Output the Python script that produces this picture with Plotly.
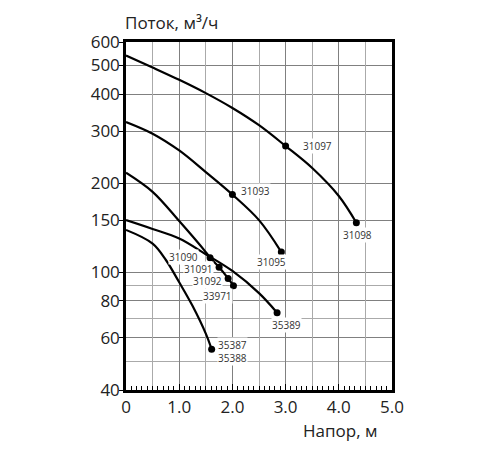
import math
import plotly.graph_objects as go

# pump curves: head (m) vs flow (m3/h)
x_31097 = [0, 0.5, 1.0, 1.5, 2.0, 2.5, 3.0, 3.5, 4.0, 4.33]
y_31097 = [540, 492, 447, 403, 359, 314, 267, 225, 181, 147]

x_31093 = [0, 0.5, 1.0, 1.5, 2.0, 2.5, 2.92]
y_31093 = [322, 294, 258, 218, 183, 150, 117]

x_31090 = [0, 0.5, 1.0, 1.5, 1.58, 1.75, 1.92, 2.02]
y_31090 = [217, 187, 149, 117, 112, 104, 95.3, 90]

x_35389 = [0, 0.5, 1.0, 1.5, 2.0, 2.5, 2.84]
y_35389 = [150, 140, 130, 115, 101, 85, 73]

x_35387 = [0, 0.5, 0.75, 1.0, 1.25, 1.5, 1.61]
y_35387 = [139, 125, 110, 92.5, 77, 62, 54.9]

curves = [(x_31097, y_31097), (x_31093, y_31093), (x_31090, y_31090),
          (x_35389, y_35389), (x_35387, y_35387)]

# end / model points
pt_x = [3.0, 4.33, 2.0, 2.92, 1.58, 1.75, 1.92, 2.02, 1.61, 2.84]
pt_y = [267, 147, 183, 117, 112, 104, 95.3, 90, 54.9, 73]
pt_labels = ["31097", "31098", "31093", "31095", "31090", "31091", "31092",
             "33971", "35387<br>35388", "35389"]

# label offsets in px
offsets = {"31097": (32, 0), "31098": (1, -12), "31093": (23, 4),
           "31095": (-10, -10), "31090": (-27, 1), "31091": (-21, -2),
           "31092": (-21, -3), "33971": (-16, -10), "35387<br>35388": (21, -2),
           "35389": (9, -12)}

y_ticks = [40, 60, 80, 100, 150, 200, 300, 400, 500, 600]
y_minor = [50, 70, 90]
x_ticks = [0, 1, 2, 3, 4, 5]
x_ticktext = ["0", "1.0", "2.0", "3.0", "4.0", "5.0"]
x_half = [0.5, 1.5, 2.5, 3.5, 4.5]

FONT = "Open Sans, DejaVu Sans, sans-serif"

fig = go.Figure()
for cx, cy in curves:
    fig.add_trace(go.Scatter(x=cx, y=cy, mode="lines", line=dict(color="black", width=2.2, shape="spline"),
                             hoverinfo="skip"))
fig.add_trace(go.Scatter(x=pt_x, y=pt_y, mode="markers", marker=dict(color="black", size=7)))

for px_, py_, lab in zip(pt_x, pt_y, pt_labels):
    dx, dy = offsets[lab]
    fig.add_annotation(x=px_, y=math.log10(py_), text=lab, showarrow=False,
                       xshift=dx, yshift=dy, bgcolor="white", borderpad=0,
                       font=dict(family=FONT, size=10, color="#333"))

fig.add_annotation(xref="paper", yref="paper", x=-0.012, y=1.055, xanchor="left", yanchor="middle",
                   text="Поток, м³/ч", showarrow=False, font=dict(family=FONT, size=17, color="#222"))
fig.add_annotation(xref="paper", yref="paper", x=0.805, y=-0.115, xanchor="center", yanchor="middle",
                   text="Напор, м", showarrow=False, font=dict(family=FONT, size=17, color="#222"))

fig.update_layout(
    width=500, height=450, showlegend=False,
    paper_bgcolor="white", plot_bgcolor="white",
    margin=dict(l=118, r=116, t=34, b=68),
    xaxis=dict(range=[0, 5], tickvals=x_ticks, ticktext=x_ticktext,
               showgrid=True, gridcolor="#808080", gridwidth=1.2,
               showline=True, mirror=True, linecolor="black", linewidth=2.5,
               ticks="inside", ticklen=6, tickcolor="black",
               minor=dict(dtick=0.1, ticks="inside", ticklen=4, tickcolor="black", showgrid=False),
               tickfont=dict(family=FONT, size=17, color="#222"), zeroline=False),
    xaxis2=dict(range=[0, 5], overlaying="x", anchor="y", tickvals=x_half,
                showticklabels=False, ticks="", showgrid=True, gridcolor="#aaa", gridwidth=1,
                zeroline=False),
    yaxis=dict(type="log", range=[math.log10(40), math.log10(600)], tickvals=y_ticks,
               showgrid=True, gridcolor="#808080", gridwidth=1.2,
               showline=True, mirror=True, linecolor="black", linewidth=2.5,
               ticks="outside", ticklen=4, tickcolor="black", ticklabelstandoff=-4,
               minor=dict(tickvals=y_minor, showgrid=True, gridcolor="#aaa", ticks=""),
               tickfont=dict(family=FONT, size=17, color="#222"), zeroline=False),
)
fig.add_trace(go.Scatter(x=[0], y=[100], xaxis="x2", mode="markers", marker=dict(opacity=0),
                         hoverinfo="skip"))

fig.write_html("out.html")
